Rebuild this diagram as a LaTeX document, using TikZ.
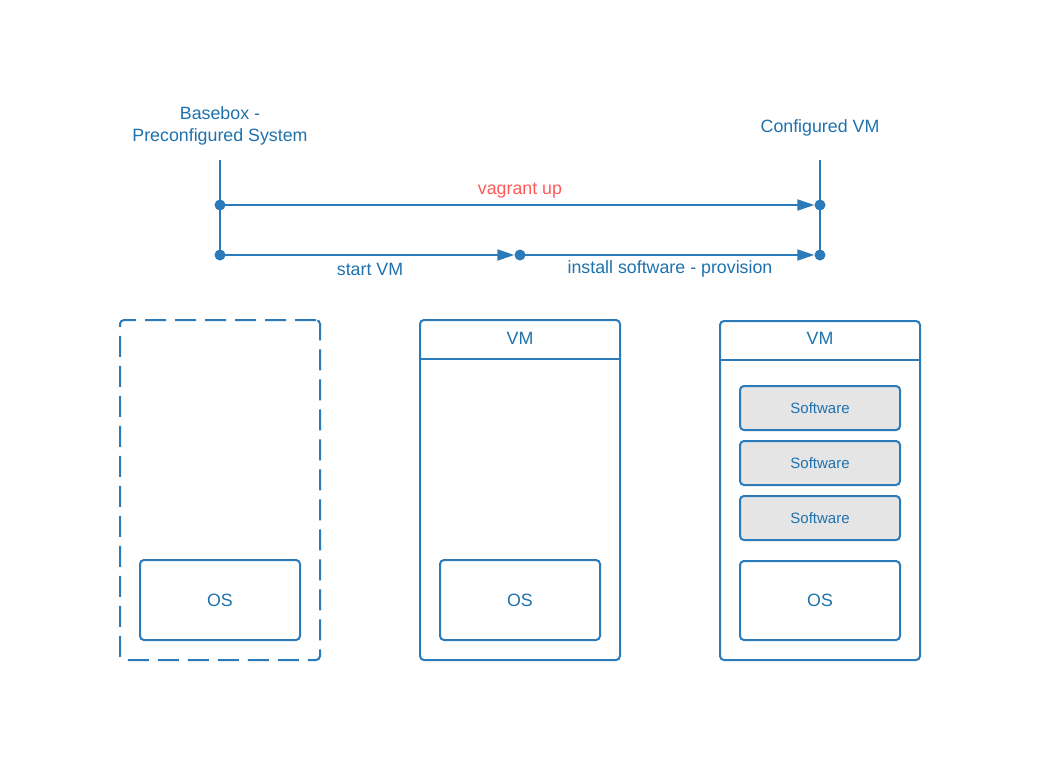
\documentclass[tikz,border=0pt]{standalone}
\usepackage{fontspec}
\setmainfont{Liberation Sans}
\usetikzlibrary{arrows.meta}
\definecolor{lineblue}{HTML}{2B7BBA}
\definecolor{textblue}{HTML}{1F72AD}
\definecolor{redtxt}{HTML}{FF5A5A}
\definecolor{softgray}{HTML}{E5E5E5}
\tikzset{
  dot/.style={circle,fill=lineblue,inner sep=0pt,minimum size=11pt},
  conn/.style={draw=lineblue,line width=2pt},
  arr/.style={conn,-{Triangle[length=17pt,width=11pt]}},
  lbl/.style={text=textblue,font=\fontsize{17.8}{21.5}\selectfont,inner sep=0pt,align=center},
  redlbl/.style={text=redtxt,font=\fontsize{17.8}{21.5}\selectfont,inner sep=0pt},
  box/.style={draw=lineblue,line width=2pt,rounded corners=4pt,inner sep=0pt},
  dashbox/.style={box,dash pattern=on 21pt off 9pt},
  osbox/.style={box,minimum width=160pt,minimum height=80pt,text=textblue,font=\fontsize{17.8}{21.5}\selectfont},
  swbox/.style={box,fill=softgray,minimum width=160pt,minimum height=44pt,text=textblue,font=\fontsize{15}{18}\selectfont},
  vmbox/.style={box,minimum width=200pt,minimum height=340pt},
}
\begin{document}
\begin{tikzpicture}[x=1pt,y=-1pt]
\useasboundingbox[fill=white] (0,0) rectangle (1040,780);
% top labels
\node[lbl] (basebox) at (220,126) {Basebox -\\[0pt]Preconfigured System};
\node[lbl] (configured) at (820,128) {Configured VM};
% timeline
\coordinate (ltop) at (220,160);
\coordinate (rtop) at (820,160);
\node[dot] (d1) at (220,205) {};
\node[dot] (d2) at (820,205) {};
\node[dot] (d3) at (220,255) {};
\node[dot] (d4) at (520,255) {};
\node[dot] (d5) at (820,255) {};
\draw[conn] (ltop) -- (d3.center);
\draw[conn] (rtop) -- (d5.center);
\draw[arr] (d1.center) -- (d2);
\draw[arr] (d3.center) -- (d4);
\draw[arr] (d4.center) -- (d5);
\node[redlbl] (vup) at (520,191) {vagrant up};
\node[lbl] (startvm) at (370,269) {start VM};
\node[lbl] (install) at (670,269) {install software - provision};
% left box
\node[dashbox,minimum width=200pt,minimum height=340pt] (base) at (220,490) {};
\node[osbox] (os1) at (220,600) {OS};
% middle box
\node[vmbox] (vm2) at (520,490) {};
\draw[conn] ([yshift=-40pt]vm2.north west) -- ([yshift=-40pt]vm2.north east);
\node[lbl] (vm2lbl) at (520,338) {VM};
\node[osbox] (os2) at (520,600) {OS};
% right box
\node[vmbox,minimum height=339pt] (vm3) at (820,490.5) {};
\draw[conn] ([yshift=-40pt]vm3.north west) -- ([yshift=-40pt]vm3.north east);
\node[lbl] (vm3lbl) at (820,338) {VM};
\node[swbox] (sw1) at (820,408) {Software};
\node[swbox] (sw2) at (820,463) {Software};
\node[swbox] (sw3) at (820,518) {Software};
\node[osbox,minimum height=79pt] (os3) at (820,600.5) {OS};
\end{tikzpicture}
\end{document}
